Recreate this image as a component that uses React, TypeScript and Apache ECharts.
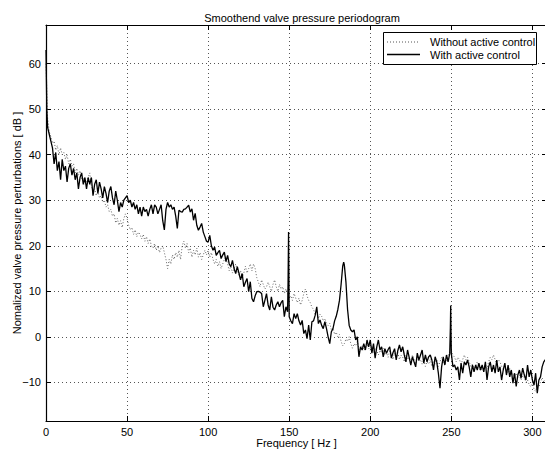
import React, { useEffect, useRef } from "react";
import * as echarts from "echarts";

// Values at 0, 1, 2, ... 308 Hz
const withoutDb = [
  60, 48, 45, 44, 42.5, 43, 41, 42, 40, 41.5,
  40, 40.5, 39, 40, 38, 39, 37.5, 38, 36, 37,
  35.5, 36.5, 34.5, 35, 33.5, 34, 35, 36, 33, 32,
  32.5, 31, 32, 30.5, 31, 29.5, 30, 28.5, 29, 27.5,
  28, 26.5, 27, 25, 26, 24.5, 25.5, 24, 26, 27,
  26, 24.5, 23.5, 24, 22.5, 23.5, 22, 23, 22.5, 21.5,
  22.5, 21, 22, 20.5, 21.5, 20, 19.5, 20.5, 19, 20,
  18.5, 19.5, 20, 18.5, 17, 15, 17, 16, 18, 17,
  18.5, 17.5, 19, 17, 20, 21, 19.5, 20.5, 18.5, 19.5,
  17.5, 19, 18, 19.5, 17.5, 18.5, 17, 18, 19, 18,
  19, 17.5, 18.5, 17, 16, 17, 15.5, 16.5, 15, 16,
  17, 17.5, 16, 14.5, 15.5, 14, 15, 16, 14.5, 13.5,
  14.5, 13, 14, 15.5, 14, 15, 16, 14.5, 16, 15,
  13, 12, 11, 12.5, 11.5, 10.5, 11, 12, 11, 10,
  11.5, 12.5, 11, 10, 11.5, 10.5, 11, 9.5, 10.5, 9.5,
  8.5, 9, 8, 9.5, 8.5, 7.5, 8.5, 7, 8, 9.5,
  10.5, 9, 8, 7.5, 6.5, 6, 5, 5.5, 4, 5,
  4.5, 3.5, 4, 3, 2.5, 3, 1.5, 2, 0.5, 1,
  0, 0.5, -1, -2, -1.5, -0.5, -1, 0, -1.5, -2.5,
  -1.5, -2, -1, -2.5, -3, -2, -3, -2.5, -1.5, -2.5,
  -3, -2, -3.5, -2.5, -3, -4, -3, -3.5, -2.5, -4,
  -3.5, -4.5, -3, -4, -5, -3.5, -4.5, -3.5, -5, -4,
  -4.5, -5.5, -4, -5, -4.5, -5.5, -4, -5, -6, -4.5,
  -5.5, -5, -6, -5, -6.5, -5.5, -6, -5, -6.5, -5.5,
  -6, -5, -6.5, -5.5, -4.5, -5.5, -6, -5, -4, -3.5,
  -3, -4, -4.5, -5.5, -4.5, -5, -6, -5, -4, -5,
  -4.5, -5.5, -6.5, -6, -7, -6.5, -5.5, -6.5, -7.5, -6.5,
  -7, -6, -7, -5.5, -4.5, -5, -4, -5, -6, -5,
  -5.5, -6.5, -7, -6.5, -7.5, -8, -7, -8.5, -8, -9,
  -8, -9, -8.5, -9.5, -8.5, -9, -10, -9.5, -10.5, -11,
  -10, -11.5, -12, -10.5, -11, -10, -9, -10, -9.5,
];

// Values at 0, 1, 2, ... 308 Hz
const withDb = [
  63, 46, 44.5, 43, 41.5, 38, 40.5, 36.5, 38.5, 34.5,
  39, 36.5, 37.5, 34, 37, 38, 35.5, 37, 34.5, 36,
  32.5, 35, 36, 33.5, 35, 32.5, 35, 33.5, 35, 31,
  33.5, 34.5, 31.5, 34, 32.5, 30.5, 33, 31.5, 29.5, 32,
  33, 30.5, 29, 32, 30, 27.5, 29.5, 28.5, 30, 30.5,
  31, 29.5, 30, 28.5, 29.5, 28, 29, 27, 28.5, 26.5,
  28.5, 27.5, 28, 26.5, 28, 29, 27, 29, 28.5, 27,
  28, 29, 25.5, 23.5, 28, 29.5, 28.5, 29, 28, 28.5,
  26.5, 23.8, 27.8, 27.5, 27.4, 28, 28.1, 28.5, 28.9, 27.4,
  28.1, 25.6, 27.1, 24.5, 23.4, 24.1, 24.9, 23, 22, 21,
  20.8, 22.3, 20, 19, 19.7, 17.9, 18.5, 19, 17.2, 18,
  18.6, 16.5, 17.9, 16, 15.4, 16.8, 15, 13.9, 15.4, 14,
  12.5, 13.9, 11, 12, 12.8, 9.9, 12.1, 8.4, 7.7, 9,
  9.9, 10, 9.8, 9.5, 6.6, 8, 9.5, 7, 5.9, 8.8,
  6.5, 5.9, 7, 7.7, 6.6, 7.5, 8, 4.4, 6.6, 5.5,
  4.4, 3.5, 2.9, 5.1, 4, 5.1, 3.5, 2.6, 3.6, 0.7,
  1.5, -0.4, 2.6, -0.7, 3.3, 3.5, 4.7, 6.6, 2.9, 3.7,
  2.5, 1.8, 3.3, 1.8, 0, -1.5, 1.1, 1.8, 3.5, 4.5,
  6, 8, 11.5, 15.5, 15.8, 12, 6, 2.5, 1.5, 1.1,
  1.5, -0.7, 0, -4.4, -2.2, -2.9, -1.5, -2.9, -0.7, -2.2,
  -0.7, -3.6, -1.5, -4.7, -2.2, -0.7, -2.9, -2.2, -4.4, -2.6,
  -3.6, -2.8, -2.2, -4.7, -3.5, -2.6, -5.1, -3, -1.8, -3.3,
  -2.2, -4, -5.5, -2.9, -4.5, -6.2, -4.4, -5.5, -6.6, -3.6,
  -5.1, -4, -2.9, -5.8, -4, -5.5, -4.4, -4, -5.1, -7.3,
  -4.4, -5.5, -8, -11.3, -6.6, -4.4, -6.2, -4, -5.5, -3.7,
  -3.7, -6.6, -6.2, -7.3, -6.6, -9.5, -5.8, -8, -5.5, -6.2,
  -5.1, -6.6, -8.8, -6.2, -7.7, -6.2, -7.3, -5.8, -7.3, -6.2,
  -7.7, -5.5, -9.5, -6.6, -5.5, -7.7, -6.2, -8, -5.1, -7.7,
  -6.6, -9.5, -7.3, -5.8, -8.4, -6.2, -8.8, -7.3, -10.2, -8,
  -10.9, -8.4, -7.3, -9.1, -6.9, -8.4, -9.5, -6.2, -8.8, -7.3,
  -9.5, -10.6, -8, -12.4, -9.5, -8.8, -6.6, -5.5, -5,
];

// Extra (non-integer frequency) points of the controlled spectrum: narrow peaks
const peakFreq = [0.5, 149.3, 149.6, 149.9, 183.6, 249.4, 249.6, 249.8];
const peakDb = [50, 12, 23, 9, 16.4, 2, 6.9, 1];

const titleText = "Smoothend valve pressure periodogram";
const xName = "Frequency [ Hz ]";
const yName = "Nomalized valve pressure perturbations [ dB ]";
const legendNames = ["Without active control", "With active control"];

const FONT = '"Liberation Sans", Arial, Helvetica, sans-serif';

export default function App() {
  const ref = useRef<HTMLDivElement>(null);

  useEffect(() => {
    if (!ref.current) return;
    const chart = echarts.init(ref.current, undefined, { renderer: "svg" });

    const withoutData = withoutDb.map((v, i) => [i, v]);
    const withData: number[][] = withDb.map((v, i) => [i, v]);
    peakFreq.forEach((f, i) => withData.push([f, peakDb[i]]));
    withData.sort((a, b) => a[0] - b[0]);

    const minusFmt = (v: number) => (v < 0 ? "\u2212" + Math.abs(v) : String(v));

    const axisLine = { show: true, onZero: false, lineStyle: { color: "#000", width: 1.2 } };
    const axisTick = { show: true, inside: true, length: 5, lineStyle: { color: "#000", width: 1 } };
    const gridLine = { show: true, lineStyle: { color: "#555", width: 1, type: [1, 3] } };
    const labelStyle = { color: "#000", fontSize: 11, fontFamily: FONT };

    const option: any = {
      animation: false,
      backgroundColor: "#fff",
      textStyle: { fontFamily: FONT },
      title: {
        text: titleText,
        left: 297,
        textAlign: "center",
        top: 7,
        textStyle: { fontSize: 11, fontWeight: "normal", color: "#000", fontFamily: FONT },
      },
      grid: {
        left: 46,
        right: -2,
        top: 25,
        bottom: 32,
        containLabel: false,
        outerBoundsMode: "none",
      },
      xAxis: [
        {
          type: "value",
          position: "bottom",
          min: 0,
          max: 309,
          interval: 50,
          name: xName,
          nameLocation: "middle",
          nameGap: 16,
          nameMoveOverlap: false,
          nameTextStyle: { ...labelStyle },
          axisLine,
          axisTick,
          axisLabel: { ...labelStyle, margin: 5, showMaxLabel: false, formatter: minusFmt },
          splitLine: gridLine,
        },
        {
          type: "value",
          position: "top",
          min: 0,
          max: 309,
          interval: 50,
          axisLine,
          axisTick,
          axisLabel: { show: false },
          splitLine: { show: false },
        },
      ],
      yAxis: [
        {
          type: "value",
          position: "left",
          min: -18.5,
          max: 68.5,
          splitNumber: 9,
          name: yName,
          nameLocation: "middle",
          nameGap: 24,
          nameMoveOverlap: false,
          nameTextStyle: { ...labelStyle },
          axisLine,
          axisTick,
          axisLabel: {
            ...labelStyle,
            margin: 5,
            showMinLabel: false,
            showMaxLabel: false,
            formatter: minusFmt,
          },
          splitLine: gridLine,
        },
        {
          type: "value",
          position: "right",
          min: -18.5,
          max: 68.5,
          splitNumber: 9,
          axisLine,
          axisTick,
          axisLabel: { show: false },
          splitLine: { show: false },
        },
      ],
      series: [
        {
          name: legendNames[0],
          type: "line",
          data: withoutData,
          showSymbol: false,
          symbol: "none",
          lineStyle: { color: "#555", width: 0.9, type: [1, 2] },
          z: 2,
        },
        {
          name: legendNames[1],
          type: "line",
          data: withData,
          showSymbol: false,
          symbol: "none",
          lineStyle: { color: "#000", width: 1.3 },
          z: 3,
        },
      ],
      graphic: [
        {
          type: "rect",
          z: 100,
          shape: { x: 383.5, y: 32.5, width: 153, height: 32 },
          style: { fill: "#fff", stroke: "#000", lineWidth: 1 },
        },
        {
          type: "line",
          z: 101,
          shape: { x1: 387, y1: 42, x2: 420, y2: 42 },
          style: { stroke: "#555", lineWidth: 1, lineDash: [1, 2] },
        },
        {
          type: "line",
          z: 101,
          shape: { x1: 387, y1: 54.5, x2: 420, y2: 54.5 },
          style: { stroke: "#000", lineWidth: 1.3 },
        },
        {
          type: "text",
          z: 101,
          x: 430,
          y: 42,
          style: {
            text: legendNames[0],
            fill: "#000",
            font: `11px ${FONT}`,
            textVerticalAlign: "middle",
            verticalAlign: "middle",
          },
        },
        {
          type: "text",
          z: 101,
          x: 430,
          y: 54.5,
          style: {
            text: legendNames[1],
            fill: "#000",
            font: `11px ${FONT}`,
            textVerticalAlign: "middle",
            verticalAlign: "middle",
          },
        },
      ],
    };

    chart.setOption(option);
    return () => chart.dispose();
  }, []);

  return (
    <div
      ref={ref}
      style={{ position: "fixed", left: 0, top: 0, width: 545, height: 453, background: "#fff" }}
    />
  );
}
